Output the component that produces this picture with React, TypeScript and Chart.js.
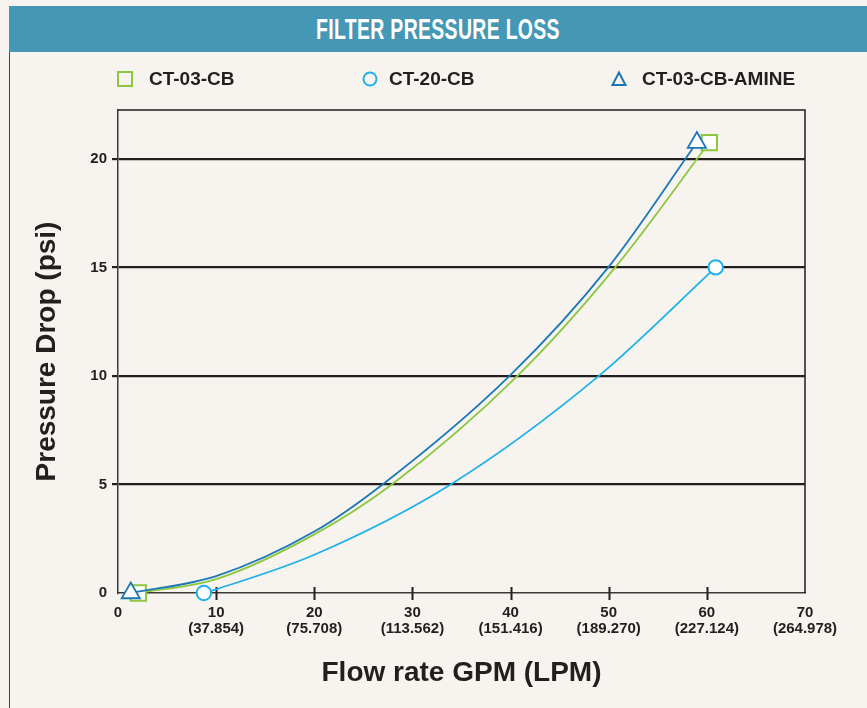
import React, { useEffect, useRef } from "react";
import { Chart, registerables } from "chart.js";

Chart.register(...registerables);

// ---- data ----
const chartTitle = "FILTER PRESSURE LOSS";
const seriesNames = ["CT-03-CB", "CT-20-CB", "CT-03-CB-AMINE"];

const ct03cbGpm = [2.07, 10, 20, 27.9, 40.7, 50.66, 60.25];
const ct03cbPsi = [0, 0.64, 2.7, 5, 10, 15, 20.75];

const ct20cbGpm = [8.75, 10, 20, 33.9, 49.0, 60.9];
const ct20cbPsi = [0, 0.17, 1.76, 5, 10, 15];

const amineGpm = [1.3, 10, 20, 26.96, 39.9, 49.95, 58.98];
const aminePsi = [0, 0.78, 2.83, 5, 10, 15, 20.75];

const xTickValues = [0, 10, 20, 30, 40, 50, 60, 70];
const xTickLpm = ["", "(37.854)", "(75.708)", "(113.562)", "(151.416)", "(189.270)", "(227.124)", "(264.978)"];
const xTickMarkValues = [10, 20, 30, 40, 50, 60];
const yTickValues = [0, 5, 10, 15, 20];
const xRange = [0, 70];
const yRange = [0, 22.25];

const xTitle = "Flow rate GPM (LPM)";
const yTitle = "Pressure Drop (psi)";

const GREEN = "#8dc63f";
const LIGHT_BLUE = "#1eb1ea";
const DARK_BLUE = "#1b78b6";
const INK = "#231f20";
const BG = "#f7f3ee";
const FONT = "'Liberation Sans', Arial, sans-serif";

const toPoints = (xs: number[], ys: number[]) => xs.map((x, i) => ({ x, y: ys[i] }));

const endRadius = (r: number) => (ctx: any) =>
  ctx.dataIndex === 0 || ctx.dataIndex === ctx.dataset.data.length - 1 ? r : 0;

const framePlugin = {
  id: "frameAndTicks",
  beforeDatasetsDraw(chart: any) {
    const { ctx, chartArea, scales } = chart;
    ctx.save();
    ctx.strokeStyle = INK;
    ctx.lineWidth = 1.5;
    ctx.beginPath();
    ctx.moveTo(chartArea.left, chartArea.top);
    ctx.lineTo(chartArea.right, chartArea.top);
    ctx.lineTo(chartArea.right, chartArea.bottom);
    ctx.stroke();
    ctx.lineWidth = 2;
    ctx.beginPath();
    xTickMarkValues.forEach((v) => {
      const px = Math.round(scales.x.getPixelForValue(v)) + 0.5;
      ctx.moveTo(px, chartArea.bottom - 6);
      ctx.lineTo(px, chartArea.bottom + 7);
    });
    ctx.stroke();
    ctx.restore();
  },
};

function LegendMarker({ kind, color }: { kind: string; color: string }) {
  return (
    <svg width="18" height="18" viewBox="0 0 18 18" style={{ display: "block" }}>
      {kind === "rect" && <rect x="2" y="2" width="14" height="14" fill="none" stroke={color} strokeWidth="2" />}
      {kind === "circle" && <circle cx="9" cy="9" r="6.5" fill="none" stroke={color} strokeWidth="2" />}
      {kind === "triangle" && <polygon points="9,2.5 15.5,15 2.5,15" fill="none" stroke={color} strokeWidth="2" />}
    </svg>
  );
}

export default function App() {
  const canvasRef = useRef<HTMLCanvasElement | null>(null);

  useEffect(() => {
    if (!canvasRef.current) return;
    const chart = new Chart(canvasRef.current, {
      type: "line",
      data: {
        datasets: [
          {
            label: seriesNames[2],
            data: toPoints(amineGpm, aminePsi),
            borderColor: DARK_BLUE,
            borderWidth: 1.8,
            pointStyle: "triangle",
            pointRadius: endRadius(10.5),
            pointHoverRadius: endRadius(10.5),
            pointBackgroundColor: "#ffffff",
            pointBorderColor: DARK_BLUE,
            pointBorderWidth: 1.8,
            cubicInterpolationMode: "monotone",
            clip: false,
          },
          {
            label: seriesNames[0],
            data: toPoints(ct03cbGpm, ct03cbPsi),
            borderColor: GREEN,
            borderWidth: 1.8,
            pointStyle: "rect",
            pointRadius: endRadius(10.8),
            pointHoverRadius: endRadius(10.8),
            pointBackgroundColor: "#ffffff",
            pointBorderColor: GREEN,
            pointBorderWidth: 2,
            cubicInterpolationMode: "monotone",
            clip: false,
          },
          {
            label: seriesNames[1],
            data: toPoints(ct20cbGpm, ct20cbPsi),
            borderColor: LIGHT_BLUE,
            borderWidth: 1.8,
            pointStyle: "circle",
            pointRadius: endRadius(7.2),
            pointHoverRadius: endRadius(7.2),
            pointBackgroundColor: "#ffffff",
            pointBorderColor: LIGHT_BLUE,
            pointBorderWidth: 2,
            cubicInterpolationMode: "monotone",
            clip: false,
          },
        ],
      },
      options: {
        animation: false,
        responsive: false,
        maintainAspectRatio: false,
        layout: { padding: { left: 10, right: 62, top: 110, bottom: 0 } },
        plugins: {
          legend: { display: false },
          tooltip: { enabled: false },
          title: { display: false },
        },
        scales: {
          x: {
            type: "linear",
            min: xRange[0],
            max: xRange[1],
            afterBuildTicks: (scale: any) => {
              scale.ticks = xTickValues.map((v) => ({ value: v }));
            },
            afterFit: (scale: any) => {
              scale.height = 115;
            },
            grid: { display: true, drawOnChartArea: false, drawTicks: true, tickLength: 7, color: "rgba(0,0,0,0)" },
            border: { display: true, color: "#3a3a3a", width: 1.5 },
            ticks: {
              autoSkip: false,
              maxRotation: 0,
              padding: 5,
              color: INK,
              font: { family: FONT, size: 15, weight: "bold", lineHeight: 1.07 },
              callback: (value: any) => {
                const i = xTickValues.indexOf(Number(value));
                return i <= 0 ? String(value) : [String(value), xTickLpm[i]];
              },
            },
            title: {
              display: true,
              text: xTitle,
              color: INK,
              font: { family: FONT, size: 28, weight: "bold", lineHeight: 1.2 },
              padding: { top: 0, bottom: 18 },
            },
          },
          y: {
            type: "linear",
            min: yRange[0],
            max: yRange[1],
            afterBuildTicks: (scale: any) => {
              scale.ticks = yTickValues.map((v) => ({ value: v }));
            },
            afterFit: (scale: any) => {
              scale.width = 108;
            },
            grid: {
              display: true,
              drawOnChartArea: true,
              drawTicks: true,
              tickLength: 6,
              lineWidth: 2.2,
              color: (ctx: any) => (ctx.tick && ctx.tick.value === 0 ? "rgba(0,0,0,0)" : INK),
            },
            border: { display: true, color: "#3a3a3a", width: 1.5 },
            ticks: {
              padding: 5,
              color: INK,
              font: { family: FONT, size: 15, weight: "bold" },
              callback: (value: any) => String(value),
            },
            title: {
              display: true,
              text: yTitle,
              color: INK,
              font: { family: FONT, size: 28, weight: "bold", lineHeight: 1.2 },
              padding: { top: 20, bottom: 0 },
            },
          },
        },
      } as any,
      plugins: [framePlugin],
    });
    return () => chart.destroy();
  }, []);

  const legendItems = [
    { name: seriesNames[0], kind: "rect", color: GREEN, markerX: 116, textX: 149 },
    { name: seriesNames[1], kind: "circle", color: LIGHT_BLUE, markerX: 361, textX: 389 },
    { name: seriesNames[2], kind: "triangle", color: DARK_BLUE, markerX: 610, textX: 642 },
  ];

  return (
    <div style={{ position: "fixed", left: 0, top: 0, width: 867, height: 708, background: BG, overflow: "hidden" }}>
      <canvas
        ref={canvasRef}
        width={867}
        height={708}
        style={{ position: "absolute", left: 0, top: 0, width: 867, height: 708 }}
      />
      <div style={{ position: "absolute", left: 9, top: 52, width: 1, height: 656, background: "#444" }} />
      <div
        style={{
          position: "absolute",
          left: 9,
          top: 6,
          width: 858,
          height: 46,
          background: "#4497b5",
          display: "flex",
          alignItems: "center",
          justifyContent: "center",
        }}
      >
        <span
          style={{
            display: "inline-block",
            color: "#ffffff",
            fontFamily: "'Liberation Sans Narrow', 'Liberation Sans', sans-serif",
            fontWeight: "bold",
            fontSize: 29,
            letterSpacing: 0.5,
            transform: "scaleX(0.67)",
            whiteSpace: "nowrap",
          }}
        >
          {chartTitle}
        </span>
      </div>
      {legendItems.map((it) => (
        <React.Fragment key={it.name}>
          <div style={{ position: "absolute", left: it.markerX, top: 70 }}>
            <LegendMarker kind={it.kind} color={it.color} />
          </div>
          <div
            style={{
              position: "absolute",
              left: it.textX,
              top: 68,
              fontFamily: FONT,
              fontWeight: "bold",
              fontSize: 19,
              lineHeight: "22px",
              color: INK,
              whiteSpace: "nowrap",
            }}
          >
            {it.name}
          </div>
        </React.Fragment>
      ))}
    </div>
  );
}
